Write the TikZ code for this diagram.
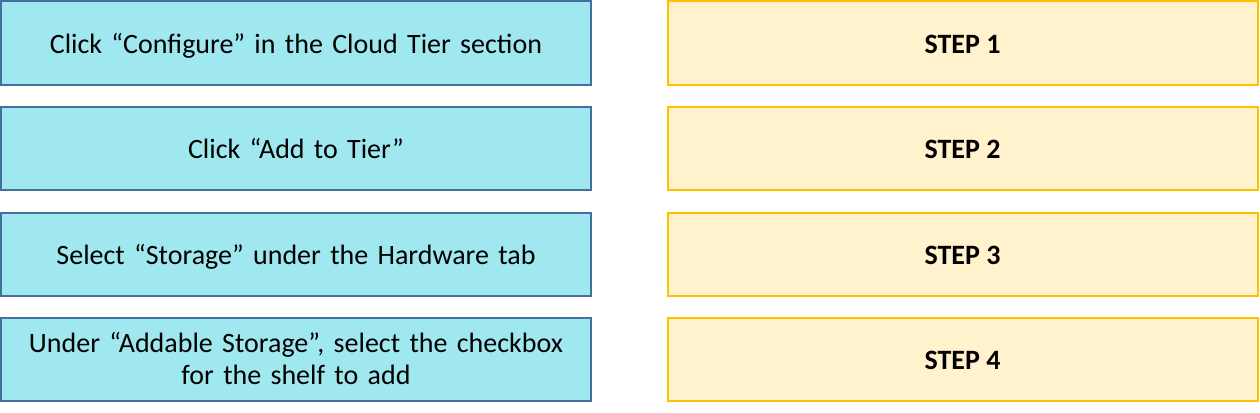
\documentclass[tikz,border=0pt]{standalone}
\usepackage{fontspec}
\setmainfont{Carlito}
\definecolor{cyfill}{HTML}{A0E8EF}
\definecolor{cyline}{HTML}{41719C}
\definecolor{yefill}{HTML}{FFF2CC}
\definecolor{yeline}{HTML}{FFC000}
\tikzset{
  actbox/.style={draw=cyline, fill=cyfill, line width=2pt, minimum width=590pt, minimum height=83pt, align=center, font=\fontsize{28}{32}\selectfont, inner sep=0pt, text width=580pt},
  stepbox/.style={draw=yeline, fill=yefill, line width=2pt, minimum width=590pt, minimum height=83pt, align=center, font=\fontsize{28}{32}\selectfont\bfseries, inner sep=0pt},
  oneline/.style={text height=24pt, text depth=4pt},
}
\begin{document}
\begin{tikzpicture}[x=1pt,y=1pt]
\useasboundingbox (0,0) rectangle (1260,-412);
\node[actbox, oneline] (a1) at (296,-43) {Click “Configure” in the Cloud Tier section};
\node[actbox, oneline] (a2) at (296,-148.5) {Click “Add to Tier”};
\node[actbox, oneline] (a3) at (296,-254) {Select “Storage” under the Hardware tab};
\node[actbox] (a4) at (296,-359) {Under “Addable Storage”, select the checkbox\\for the shelf to add};
\node[stepbox, oneline] (s1) at (962.5,-43) {STEP 1};
\node[stepbox, oneline] (s2) at (962.5,-148.5) {STEP 2};
\node[stepbox, oneline] (s3) at (962.5,-254) {STEP 3};
\node[stepbox, oneline] (s4) at (962.5,-359) {STEP 4};
\end{tikzpicture}
\end{document}
